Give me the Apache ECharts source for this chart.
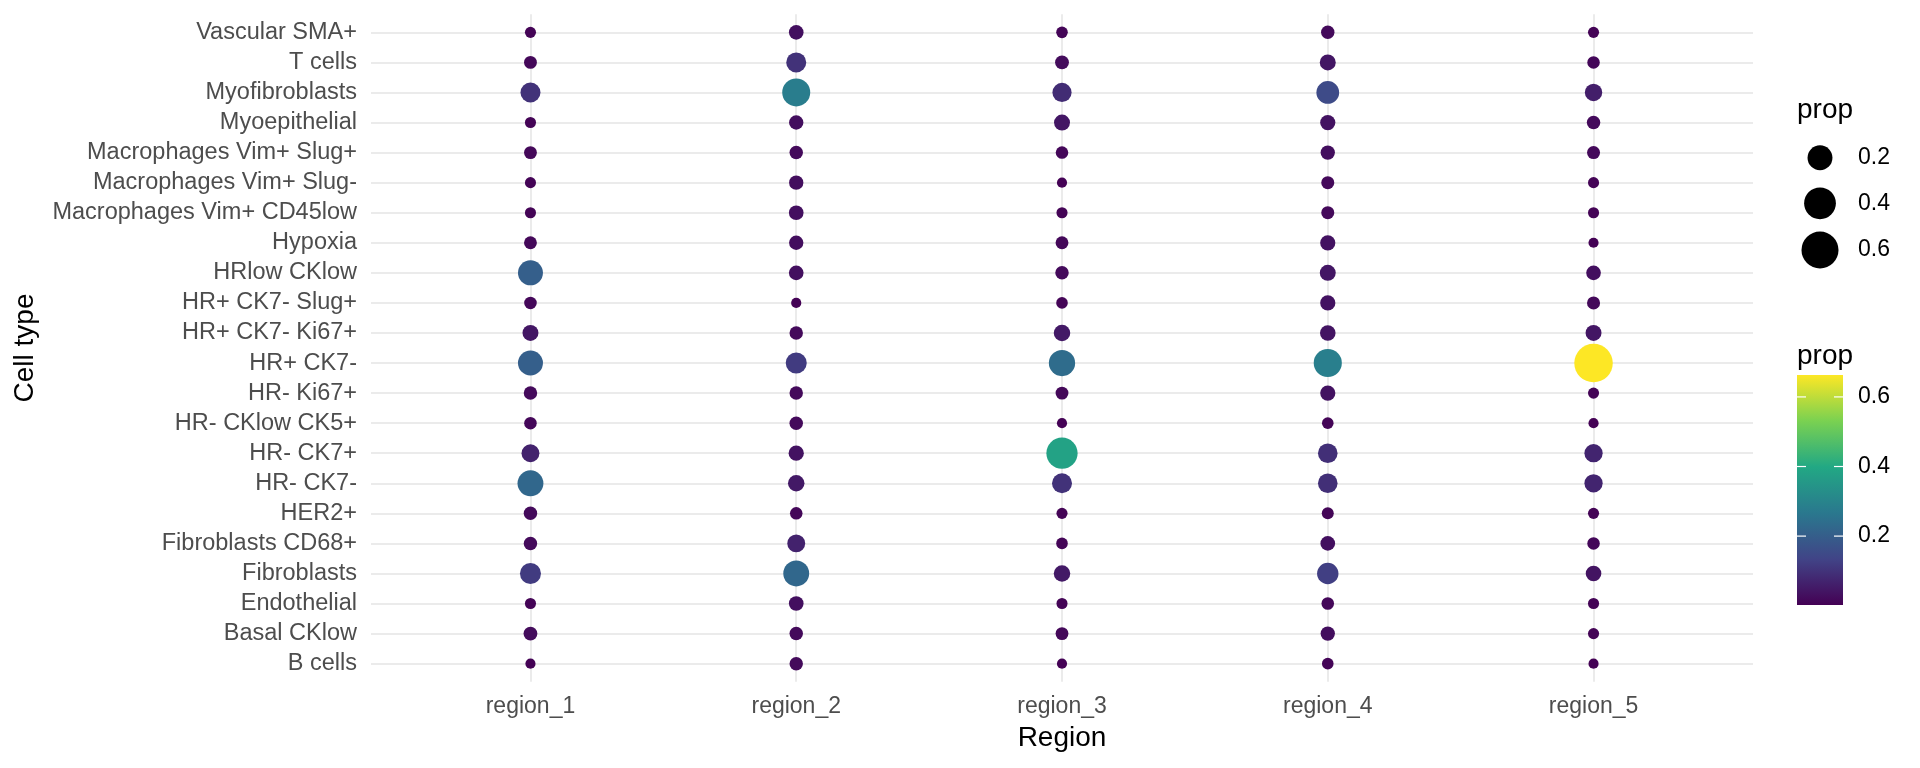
<!DOCTYPE html>
<html>
<head>
<meta charset="utf-8">
<script src="https://cdn.jsdelivr.net/npm/echarts@6/dist/echarts.min.js"></script>
<style>
html,body{margin:0;padding:0;background:#fff;}
#chart{width:1920px;height:768px;}
</style>
</head>
<body>
<div id="chart"></div>
<script>
// Categories (bottom to top on the y axis)
var cellTypes = ["B cells","Basal CKlow","Endothelial","Fibroblasts","Fibroblasts CD68+","HER2+","HR- CK7-","HR- CK7+","HR- CKlow CK5+","HR- Ki67+","HR+ CK7-","HR+ CK7- Ki67+","HR+ CK7- Slug+","HRlow CKlow","Hypoxia","Macrophages Vim+ CD45low","Macrophages Vim+ Slug-","Macrophages Vim+ Slug+","Myoepithelial","Myofibroblasts","T cells","Vascular SMA+"];
var regions = ["region_1","region_2","region_3","region_4","region_5"];

// prop values per region, in cellTypes order
var region_1 = [0.004,0.023,0.007,0.117,0.020,0.020,0.224,0.067,0.014,0.020,0.202,0.043,0.014,0.202,0.016,0.007,0.007,0.016,0.007,0.099,0.016,0.007];
var region_2 = [0.020,0.020,0.030,0.224,0.067,0.014,0.049,0.035,0.020,0.020,0.117,0.020,0.004,0.030,0.027,0.030,0.027,0.020,0.027,0.281,0.099,0.030];
var region_3 = [0.004,0.016,0.007,0.049,0.009,0.007,0.099,0.382,0.004,0.016,0.235,0.049,0.009,0.020,0.016,0.007,0.004,0.014,0.043,0.086,0.023,0.009];
var region_4 = [0.009,0.027,0.014,0.124,0.030,0.011,0.092,0.092,0.009,0.035,0.285,0.039,0.035,0.043,0.035,0.017,0.017,0.027,0.035,0.152,0.043,0.020];
var region_5 = [0.004,0.007,0.007,0.039,0.014,0.007,0.072,0.072,0.004,0.007,0.663,0.043,0.017,0.030,0.004,0.007,0.007,0.017,0.020,0.060,0.014,0.007];
var regionValues = [region_1, region_2, region_3, region_4, region_5];

// legend breaks
var sizeBreaks = [0.2, 0.4, 0.6];
var colorBreaks = [0.2, 0.4, 0.6];
var propMin = 0.002, propMax = 0.663;
var viridis = ["#440154","#414487","#2A788E","#22A884","#7AD151","#FDE725"];

var FONT = "'Liberation Sans', Arial, sans-serif";
var D_MIN = 8.5, D_MAX = 38.5;
function sizeOf(v) {
  var t = (v - propMin) / (propMax - propMin);
  if (t < 0) t = 0;
  return D_MIN + (D_MAX - D_MIN) * Math.sqrt(t);
}

var data = [];
regionValues.forEach(function (vals, ri) {
  vals.forEach(function (v, ci) { data.push([ri + 1, ci, v]); });
});

var xTicks = regions.map(function (r, i) { return i + 1; });
var yTicks = cellTypes.map(function (c, i) { return i; });

// legend geometry
var barLeft = 1797, barTop = 375, barW = 46, barH = 230;
var graphics = [];
graphics.push({type:'text', left:1797, top:96, style:{text:'prop', font:'28px ' + FONT, fill:'#000'}});
var sizeY = [157.7, 203.3, 250];
sizeBreaks.forEach(function (b, i) {
  graphics.push({type:'circle', shape:{cx:1820, cy:sizeY[i], r:sizeOf(b) / 2}, style:{fill:'#000'}});
  graphics.push({type:'text', x:1858, y:sizeY[i], style:{text:b.toFixed(1), font:'23px ' + FONT, fill:'#000', textVerticalAlign:'middle', verticalAlign:'middle'}});
});
graphics.push({type:'text', left:1797, top:342, style:{text:'prop', font:'28px ' + FONT, fill:'#000'}});
graphics.push({type:'rect', shape:{x:barLeft, y:barTop, width:barW, height:barH},
  style:{fill:new echarts.graphic.LinearGradient(0, 1, 0, 0, viridis.map(function (c, i) {
    return {offset: i / (viridis.length - 1), color: c};
  }))}});
colorBreaks.forEach(function (b) {
  var y = barTop + barH - (b - propMin) / (propMax - propMin) * barH;
  graphics.push({type:'line', z:100, shape:{x1:barLeft, y1:y, x2:barLeft + 9, y2:y}, style:{stroke:'#fff', lineWidth:1.2}});
  graphics.push({type:'line', z:100, shape:{x1:barLeft + barW - 9, y1:y, x2:barLeft + barW, y2:y}, style:{stroke:'#fff', lineWidth:1.2}});
  graphics.push({type:'text', x:1858, y:y, style:{text:b.toFixed(1), font:'23px ' + FONT, fill:'#000', textVerticalAlign:'middle', verticalAlign:'middle'}});
});

var chart = echarts.init(document.getElementById('chart'), null, {renderer:'canvas'});
chart.setOption({
  animation: false,
  backgroundColor: '#fff',
  textStyle: {fontFamily: FONT},
  grid: {left: 371, right: 167, top: 14.3, bottom: 86.3, containLabel: false},
  xAxis: {
    type: 'value', min: 0.4, max: 5.6,
    name: 'Region', nameLocation: 'middle', nameGap: 43,
    nameTextStyle: {fontSize: 28, color: '#000', fontFamily: FONT},
    axisLine: {show: false},
    axisTick: {show: false, customValues: xTicks},
    axisLabel: {customValues: xTicks, fontSize: 23, color: '#4D4D4D', margin: 13, fontFamily: FONT,
      formatter: function (v) { return regions[Math.round(v) - 1]; }},
    splitLine: {show: true, lineStyle: {color: '#EBEBEB', width: 2}}
  },
  yAxis: {
    type: 'value', min: -0.6, max: 21.6,
    name: 'Cell type', nameLocation: 'middle', nameGap: 332, nameRotate: 90,
    nameTextStyle: {fontSize: 28, color: '#000', fontFamily: FONT},
    axisLine: {show: false},
    axisTick: {show: false, customValues: yTicks},
    axisLabel: {customValues: yTicks, fontSize: 23.5, color: '#4D4D4D', margin: 14, fontFamily: FONT,
      formatter: function (v) { return cellTypes[Math.round(v)]; }},
    splitLine: {show: true, lineStyle: {color: '#EBEBEB', width: 2}}
  },
  visualMap: {
    type: 'continuous', show: false, dimension: 2, seriesIndex: 0,
    min: propMin, max: propMax,
    inRange: {color: viridis}
  },
  series: [{
    type: 'scatter',
    data: data,
    symbol: 'circle',
    symbolSize: function (d) { return sizeOf(d[2]); },
    itemStyle: {opacity: 1},
    emphasis: {disabled: true}
  }],
  graphic: graphics
});
</script>
</body>
</html>
